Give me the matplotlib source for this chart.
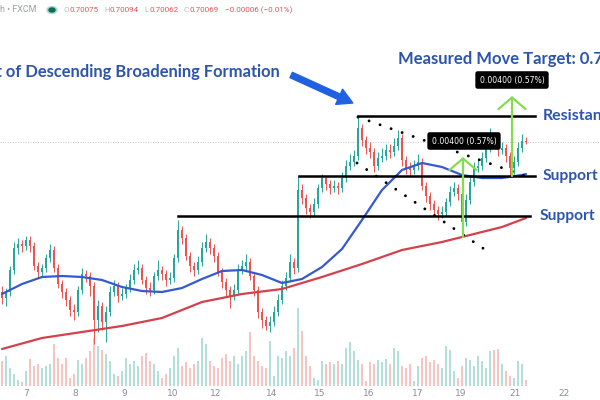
import matplotlib
matplotlib.use("Agg")
import matplotlib.pyplot as plt
import numpy as np
from matplotlib.patches import Circle

# ---------------- data ----------------
first_open = 0.6932
closes = [0.6929, 0.6932, 0.6943, 0.6954, 0.6956, 0.6955, 0.6958, 0.6955, 0.6945, 0.6942,
          0.6944, 0.6949, 0.6953, 0.6944, 0.6936, 0.6932, 0.6928, 0.6923, 0.6922, 0.6933,
          0.6941, 0.6940, 0.6935, 0.6918, 0.6925, 0.6917, 0.6922, 0.6932, 0.6935, 0.6930,
          0.6931, 0.6934, 0.6938, 0.6943, 0.6944, 0.6938, 0.6934, 0.6933, 0.6940, 0.6943,
          0.6941, 0.6938, 0.6939, 0.6949, 0.6963, 0.6959, 0.6950, 0.6945, 0.6943, 0.6947,
          0.6954, 0.6957, 0.6954, 0.6950, 0.6942, 0.6937, 0.6933, 0.6930, 0.6933, 0.6943,
          0.6945, 0.6947, 0.6940, 0.6933, 0.6922, 0.6918, 0.6915, 0.6917, 0.6922, 0.6928,
          0.6935, 0.6939, 0.6947, 0.6944, 0.6983, 0.6979, 0.6974, 0.6972, 0.6976, 0.6984,
          0.6989, 0.6986, 0.6984, 0.6985, 0.6984, 0.6989, 0.6995, 0.6997, 0.7000, 0.7014,
          0.7008, 0.7004, 0.7002, 0.6995, 0.6999, 0.7000, 0.7003, 0.7002, 0.7005, 0.7009,
          0.6998, 0.6994, 0.6993, 0.6995, 0.6997, 0.6985, 0.6980, 0.6976, 0.6973, 0.6971,
          0.6972, 0.6977, 0.6982, 0.6984, 0.6981, 0.6967, 0.6978, 0.6987, 0.6994, 0.6995,
          0.6999, 0.7004, 0.7010, 0.7007, 0.7003, 0.7004, 0.7000, 0.6994, 0.6997, 0.7004,
          0.70075, 0.70069]
highs = [0.6935, 0.6934, 0.6945, 0.6957, 0.6959, 0.6958, 0.6960, 0.6960, 0.6957, 0.6947,
         0.6946, 0.6951, 0.6956, 0.6955, 0.6946, 0.6938, 0.6934, 0.6930, 0.6926, 0.6935,
         0.6944, 0.6943, 0.6942, 0.6937, 0.6928, 0.6927, 0.6925, 0.6935, 0.6938, 0.6937,
         0.6934, 0.6936, 0.6941, 0.6946, 0.6948, 0.6946, 0.6940, 0.6937, 0.6942, 0.6948,
         0.6945, 0.6943, 0.6942, 0.6951, 0.6968, 0.6965, 0.6961, 0.6952, 0.6947, 0.6950,
         0.6957, 0.6961, 0.6959, 0.6956, 0.6952, 0.6944, 0.6939, 0.6935, 0.6936, 0.6946,
         0.6948, 0.6951, 0.6949, 0.6942, 0.6935, 0.6924, 0.6920, 0.6920, 0.6925, 0.6931,
         0.6938, 0.6942, 0.6951, 0.6949, 0.6990, 0.6986, 0.6981, 0.6976, 0.6979, 0.6986,
         0.6991, 0.6990, 0.6988, 0.6988, 0.6987, 0.6992, 0.6998, 0.7001, 0.7003, 0.7020,
         0.7016, 0.7010, 0.7007, 0.7004, 0.7002, 0.7004, 0.7006, 0.7006, 0.7009, 0.7013,
         0.7011, 0.7000, 0.6997, 0.6998, 0.7001, 0.6999, 0.6987, 0.6982, 0.6978, 0.6975,
         0.6975, 0.6979, 0.6985, 0.6987, 0.6986, 0.6983, 0.6981, 0.6990, 0.6997, 0.6999,
         0.7002, 0.7007, 0.7014, 0.7012, 0.7009, 0.7007, 0.7006, 0.7002, 0.7000, 0.7007,
         0.7011, 0.70094]
lows = [0.6926, 0.6925, 0.6930, 0.6941, 0.6951, 0.6952, 0.6953, 0.6952, 0.6943, 0.6939,
        0.6940, 0.6942, 0.6947, 0.6942, 0.6934, 0.6929, 0.6925, 0.6920, 0.6918, 0.6920,
        0.6931, 0.6937, 0.6930, 0.6906, 0.6912, 0.6913, 0.6907, 0.6920, 0.6930, 0.6927,
        0.6928, 0.6929, 0.6932, 0.6936, 0.6941, 0.6936, 0.6931, 0.6930, 0.6931, 0.6938,
        0.6938, 0.6935, 0.6936, 0.6937, 0.6947, 0.6956, 0.6948, 0.6942, 0.6940, 0.6941,
        0.6945, 0.6952, 0.6951, 0.6947, 0.6940, 0.6934, 0.6930, 0.6924, 0.6928, 0.6931,
        0.6941, 0.6943, 0.6938, 0.6930, 0.6919, 0.6914, 0.6913, 0.6912, 0.6915, 0.6920,
        0.6926, 0.6933, 0.6937, 0.6941, 0.6942, 0.6976, 0.6971, 0.6969, 0.6970, 0.6974,
        0.6982, 0.6983, 0.6981, 0.6982, 0.6981, 0.6982, 0.6987, 0.6993, 0.6995, 0.6998,
        0.7005, 0.7001, 0.6999, 0.6992, 0.6993, 0.6997, 0.6998, 0.6999, 0.7000, 0.7003,
        0.6995, 0.6991, 0.6990, 0.6991, 0.6993, 0.6983, 0.6977, 0.6973, 0.6970, 0.6968,
        0.6969, 0.6970, 0.6975, 0.6980, 0.6978, 0.6960, 0.6965, 0.6976, 0.6985, 0.6992,
        0.6993, 0.6997, 0.7002, 0.7004, 0.7000, 0.7001, 0.6997, 0.6990, 0.6991, 0.6995,
        0.7002, 0.70062]
volumes = [25, 30, 18, 12, 6, 4, 15, 27, 20, 22,
           18, 20, 22, 42, 28, 22, 28, 8, 12, 26,
           22, 28, 35, 48, 40, 36, 32, 25, 12, 10,
           15, 28, 22, 25, 20, 30, 33, 25, 22, 15,
           8, 12, 18, 30, 38, 20, 24, 18, 22, 25,
           48, 42, 25, 20, 18, 28, 32, 25, 30, 22,
           30, 35, 54, 30, 25, 20, 18, 45, 10, 30,
           28, 35, 30, 38, 78, 55, 30, 20, 8, 6,
           25, 22, 24, 22, 25, 22, 38, 44, 35, 26,
           22, 5, 24, 22, 26, 24, 27, 22, 38, 35,
           20, 18, 22, 5, 20, 28, 30, 24, 26, 22,
           18, 40, 36, 15, 8, 20, 28, 26, 20, 30,
           25, 18, 35, 36, 37, 22, 15, 10, 8, 25,
           22, 6]
ma50_idx = [0, 5, 10, 15, 20, 25, 30, 35, 40, 45, 50, 55, 60, 65, 70, 75, 80, 85,
            90, 95, 100, 105, 110, 115, 120, 125, 130, 131]
ma50 = [0.69310, 0.69360, 0.69395, 0.69400, 0.69395, 0.69380, 0.69345, 0.69325,
        0.69320, 0.69340, 0.69385, 0.69425, 0.69430, 0.69405, 0.69365, 0.69385,
        0.69445, 0.69535, 0.69680, 0.69830, 0.69930, 0.69965, 0.69945, 0.69905,
        0.69890, 0.69890, 0.69905, 0.69910]
ma200_idx = [0, 10, 20, 30, 40, 50, 60, 70, 75, 80, 90, 100, 110, 120, 125, 131]
ma200 = [0.69035, 0.69090, 0.69120, 0.69150, 0.69190, 0.69270, 0.69310, 0.69335,
         0.69365, 0.69395, 0.69460, 0.69530, 0.69570, 0.69620, 0.69645, 0.69690]
tick_pos = [6, 18.25, 30.5, 42.75, 53.5, 67.5, 79.5, 91.75, 104, 114.75, 128.25, 140.5]
tick_labels = ["7", "8", "9", "10", "12", "14", "15", "16", "17", "19", "21", "22"]
resistance = 0.7020
support_hi = 0.6990
support_lo = 0.6970
move = 0.0040
move_label = "0.00400 (0.57%)"
last_price = 0.70069
ohlc_head = [("O", "0.70075"), ("H", "0.70094"), ("L", "0.70062"), ("C", "0.70069")]
change_text = "\u22120.00006 (\u22120.01%)"

# ---------------- styling ----------------
UP = "#26a69a"
DOWN = "#ef5350"
TXT_BLUE = "#2d55ad"
ARROW_BLUE = "#2160e0"
GREEN_ARROW = "#86dc4f"

opens = [first_open] + closes[:-1]
n = len(closes)
x = np.arange(n)
o = np.array(opens); c = np.array(closes); h = np.array(highs); l = np.array(lows)
up = c >= o
cols = np.where(up, UP, DOWN)

fig = plt.figure(figsize=(6, 4), dpi=100)
fig.patch.set_facecolor("white")
rect = [0, 14 / 400, 1, 386 / 400]
vax = fig.add_axes(rect)
ax = fig.add_axes(rect, sharex=vax)
ax.patch.set_alpha(0)

# volume
vax.bar(x, volumes, width=0.5, color=cols, alpha=0.35, linewidth=0)
vax.set_ylim(0, 386)
vax.axis("off")

ax.set_xlim(-0.5, 149.5)
ax.set_ylim(0.6885, 0.7078)
for s in ax.spines.values():
    s.set_visible(False)
ax.set_yticks([])
ax.set_xticks(tick_pos)
ax.set_xticklabels(tick_labels, fontsize=6.5, color="#8a8e99")
ax.tick_params(axis="x", length=0, pad=2.5)

# current price line
ax.axhline(last_price, color="#b8b8b8", lw=0.6, ls=(0, (1, 2)), zorder=1)

# candles
ax.vlines(x, l, h, colors=cols, lw=0.7, zorder=3)
body_bottom = np.minimum(o, c)
body_h = np.maximum(np.abs(c - o), 0.00002)
ax.bar(x, body_h, bottom=body_bottom, width=0.5, color=cols, linewidth=0, zorder=3)

# moving averages
ax.plot(ma200_idx, ma200, color="#d6404a", lw=1.6, zorder=4, solid_capstyle="round")
ax.plot(ma50_idx, ma50, color="#3559d0", lw=1.6, zorder=4, solid_capstyle="round")

# horizontal levels
ax.plot([89, 133.25], [resistance, resistance], color="black", lw=1.8, zorder=5)
ax.plot([74.25, 133.25], [support_hi, support_hi], color="black", lw=1.8, zorder=5)
ax.plot([44, 132], [support_lo, support_lo], color="black", lw=1.8, zorder=5)

# broadening formation dotted lines
dot = dict(color="black", lw=2.1, ls=(0, (0.01, 4.0)), dash_capstyle="round", zorder=6)
ax.plot([89, 131.5], [0.70195, 0.69895], **dot)
ax.plot([88.75, 122], [0.69965, 0.69515], **dot)

# measured move arrows
for xi, y0 in [(115.25, 0.69595), (127.5, support_hi)]:
    ax.annotate("", xy=(xi, y0 + move), xytext=(xi, y0),
                arrowprops=dict(arrowstyle="->,head_width=0.7,head_length=0.6",
                                color=GREEN_ARROW, lw=1.6, mutation_scale=14,
                                shrinkA=0, shrinkB=0), zorder=7)

box = dict(boxstyle="round,pad=0.55,rounding_size=0.3", fc="black", ec="none")
ax.text(127.5, 0.7038, move_label, color="white", fontsize=5.6, ha="center",
        va="center", bbox=box, zorder=8)
ax.text(115.5, 0.70075, move_label, color="white", fontsize=5.6, ha="center",
        va="center", bbox=box, zorder=8)

# labels
lab = dict(color=TXT_BLUE, fontweight="bold", family="Lato", va="center", zorder=8)
ax.text(135.25, resistance, "Resistance", ha="left", fontsize=11.5, **lab)
ax.text(135.25, support_hi, "Support", ha="left", fontsize=11.2, **lab)
ax.text(134.5, support_lo, "Support", ha="left", fontsize=11.2, **lab)
ax.text(99, 0.70485, "Measured Move Target: 0.7030", ha="left", fontsize=12, **lab)
ax.text(69.5, 0.7042, "Breakout of Descending Broadening Formation", ha="right",
        fontsize=11.9, **lab)

ax.annotate("", xy=(87.7, 0.70265), xytext=(72.3, 0.70405),
            arrowprops=dict(arrowstyle="simple,head_length=0.9,head_width=1.0,tail_width=0.35",
                            color=ARROW_BLUE, mutation_scale=12, shrinkA=0, shrinkB=0),
            zorder=8)

# header
def fx(px):
    return px / 600
hy = 1 - 10 / 400
HF = 5.8
fig.text(fx(0), hy, "h \u2022 FXCM", fontsize=6.4, color="#9a9ea8", va="center",
         family="Roboto")
fig.add_artist(Circle((fx(52), hy), 5 / 600, transform=fig.transFigure,
                      color="#a9d8cf", zorder=5))
fig.add_artist(Circle((fx(52), hy), 3 / 600, transform=fig.transFigure,
                      color="#0f6b5a", zorder=6))
pos = [(64, 69), (104, 109), (144, 149), (184, 189)]
for (letter, val), (lx, vx) in zip(ohlc_head, pos):
    fig.text(fx(lx), hy, letter, fontsize=HF, color="#b5b8c0", va="center", family="Roboto")
    fig.text(fx(vx), hy, val, fontsize=HF, color="#e2535c", va="center", family="Roboto")
fig.text(fx(225), hy, change_text, fontsize=HF, color="#e2535c", va="center", family="Roboto")

fig.savefig("out.png", dpi=100, facecolor="white")
